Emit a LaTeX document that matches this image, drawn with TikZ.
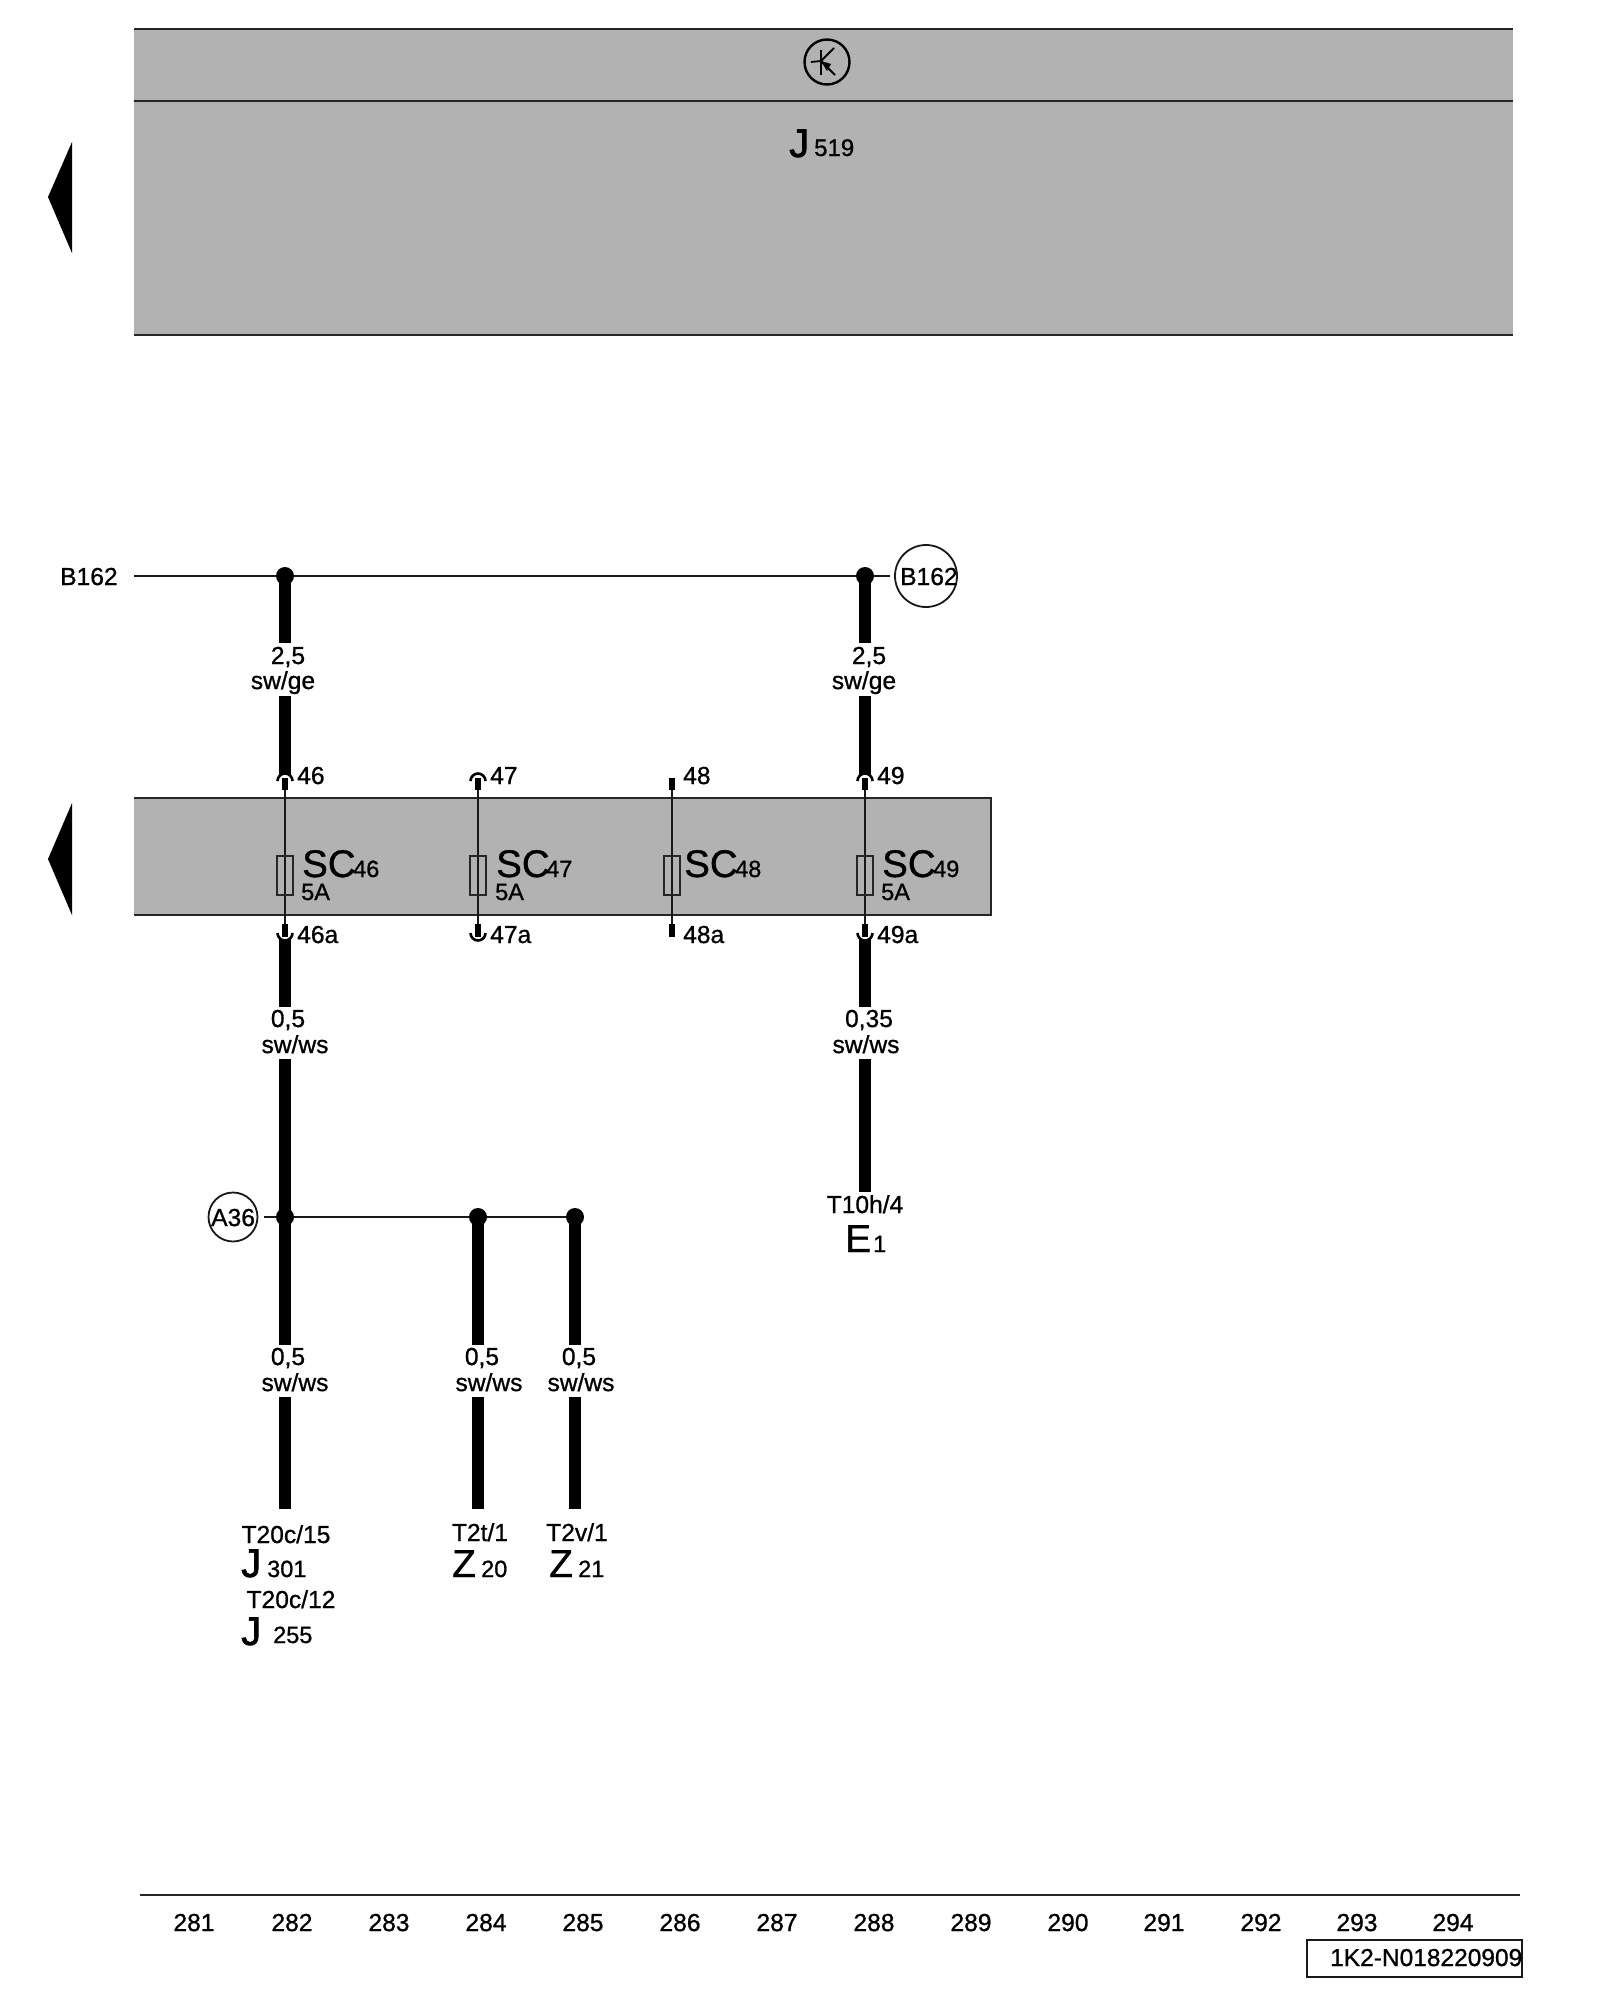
\documentclass[tikz,border=0pt]{standalone}
\usepackage{fontspec}
\setmainfont{Liberation Sans}
\newfontfamily\semi[FakeBold=0.9]{Liberation Sans}
\newfontfamily\semib[FakeBold=1.5]{Liberation Sans}
\newcommand{\fsz}[1]{\fontsize{#1}{#1}\selectfont}
\definecolor{bandgray}{HTML}{B2B2B2}
\tikzset{
  band/.style={fill=bandgray,draw=none},
  bandline/.style={line width=2.4pt,draw=black!85},
  thin wire/.style={line width=2.2pt,draw=black!90},
  thick wire/.style={line width=11.5pt,draw=black},
  stub/.style={line width=5.5pt,draw=black},
  pinarc/.style={line width=2.6pt,draw=black,fill=white},
  fuse/.style={draw=black!85,line width=1.8pt,fill=none,minimum width=16pt,minimum height=39pt,inner sep=0pt,rectangle},
  dot/.style={circle,fill=black,draw=none,minimum size=18pt,inner sep=0pt},
  ref/.style={circle,draw=black!90,line width=1.8pt,fill=none,inner sep=0pt},
  lab/.style={inner sep=0pt,anchor=base,font=\semi\fsz{24.6}},
  labw/.style={inner sep=0pt,anchor=base west,font=\semi\fsz{24.6}},
  big/.style={inner sep=0pt,anchor=base west,font=\semi\fsz{39}},
  sub/.style={inner sep=0pt,anchor=base west,font=\semi\fsz{23.5}},
  pointer/.style={fill=black,draw=none},
  x=1pt,y=1pt
}
\begin{document}
\begin{tikzpicture}[x=1pt,y=1pt]
\useasboundingbox (0,0) rectangle (1600,-2000);
\fill[white] (0,0) rectangle (1600,-2000);

% named points
\coordinate (ctlL) at (134,-29); \coordinate (ctlR) at (1513,-29);
\coordinate (c2L) at (134,-101); \coordinate (c2R) at (1513,-101);
\coordinate (c3L) at (134,-335); \coordinate (c3R) at (1513,-335);

% control-unit band
\fill[band] (ctlL) rectangle (c3R);
\draw[bandline] (ctlL) -- (ctlR);
\draw[bandline] (c2L) -- (c2R);
\draw[bandline] (c3L) -- (c3R);

% transistor symbol
\node[circle,draw=black,line width=2.4pt,minimum size=45pt,inner sep=0pt] (tr) at (827,-62) {};
\coordinate (trA) at (821,-50); \coordinate (trB) at (821,-75); \coordinate (trC) at (811,-62);
\coordinate (trM) at (821,-61); \coordinate (trD) at (834,-48); \coordinate (trE) at (835,-75);
\draw[line width=1.8pt] (trA) -- (trB);
\draw[line width=1.8pt] (trC) -- (trM);
\draw[line width=1.8pt] (trM) -- (trD);
\draw[line width=1.8pt] (trM) -- (trE);
\fill (trM) -- ++(10,-3) -- ++(-4,-7) -- cycle;

\node[big,font=\semib\fsz{40}] (j519) at (789,-157) {J};
\node[sub,font=\semi\fsz{24}] (j519n) at (814,-156) {519};

% pointers
\fill[pointer] (72,-142) -- (48,-197) -- (72,-253) -- cycle;
\fill[pointer] (72,-803) -- (48,-859) -- (72,-915) -- cycle;

% fuse band
\fill[band] (134,-798) rectangle (991,-915);
\draw[bandline] (134,-798) -- (991,-798) -- (991,-915) -- (134,-915);

% wire columns
\coordinate (jA) at (285,-576);
\coordinate (jB) at (865,-576);
\coordinate (busL) at (134,-576);
\coordinate (busR) at (890,-576);
\draw[thin wire] (busL) -- (busR);

% B162 wire at 282
\coordinate (a1) at (285,-643); \coordinate (a2) at (285,-696); \coordinate (a3) at (285,-778);
\draw[thick wire] (jA) -- (a1);
\draw[thick wire] (a2) -- (a3);
% B162 wire at 288
\coordinate (b1) at (865,-643); \coordinate (b2) at (865,-696); \coordinate (b3) at (865,-778);
\draw[thick wire] (jB) -- (b1);
\draw[thick wire] (b2) -- (b3);

% lower wires
\coordinate (a4) at (285,-936); \coordinate (a5) at (285,-1007);
\coordinate (a6) at (285,-1059); \coordinate (jC) at (285,-1217);
\coordinate (a7) at (285,-1345); \coordinate (a8) at (285,-1397); \coordinate (a9) at (285,-1509);
\draw[thick wire] (a4) -- (a5);
\draw[thick wire] (a6) -- (jC) -- (a7);
\draw[thick wire] (a8) -- (a9);
\coordinate (b4) at (865,-936); \coordinate (b5) at (865,-1007);
\coordinate (b6) at (865,-1059); \coordinate (b7) at (865,-1192);
\draw[thick wire] (b4) -- (b5);
\draw[thick wire] (b6) -- (b7);

\coordinate (jD) at (478,-1217); \coordinate (jE) at (575,-1217);
\coordinate (d1) at (478,-1345); \coordinate (d2) at (478,-1397); \coordinate (d3) at (478,-1509);
\coordinate (e1) at (575,-1345); \coordinate (e2) at (575,-1397); \coordinate (e3) at (575,-1509);
\draw[thick wire] (jD) -- (d1);
\draw[thick wire] (d2) -- (d3);
\draw[thick wire] (jE) -- (e1);
\draw[thick wire] (e2) -- (e3);
\coordinate (busC) at (264,-1217);
\draw[thin wire] (busC) -- (jE);

% junction dots
\node[dot] (dA) at (jA) {};
\node[dot] (dB) at (jB) {};
\node[dot] (dC) at (jC) {};
\node[dot] (dD) at (jD) {};
\node[dot] (dE) at (jE) {};

% references
\node[ref,minimum size=62pt] (rB) at (926,-576) {};
\node[labw] (rBt) at (900,-585) {B162};
\node[ref,minimum size=49pt] (rA) at (233,-1217) {};
\node[labw] (rAt) at (211,-1226) {A36};
\node[labw] (bl) at (60,-585) {B162};

% fuses with pins
\foreach \n/\x in {46/285,47/478,49/865}{
  \begin{scope}[shift={(\x,0)}]
    \coordinate (pu\n) at (0,-781);
    \coordinate (pl\n) at (0,-933);
    \draw[pinarc] (pu\n) ++(-7.5,0) arc (180:0:7.5);
    \draw[pinarc] (pl\n) ++(-7.5,0) arc (180:360:7.5);
  \end{scope}
}
\foreach \n/\x in {46/285,47/478,48/672,49/865}{
  \coordinate (tu\n) at (\x,-778);
  \coordinate (su\n) at (\x,-790);
  \coordinate (sl\n) at (\x,-924);
  \coordinate (tl\n) at (\x,-937);
  \draw[stub] (tu\n) -- (su\n);
  \draw[stub] (sl\n) -- (tl\n);
  \draw[thin wire] (su\n) -- (sl\n);
  \node[fuse] (f\n) at (\x,-875.5) {};
}

% pin labels
\node[labw] (p46) at (297,-784) {46};
\node[labw] (p47) at (490,-784) {47};
\node[labw] (p48) at (683,-784) {48};
\node[labw] (p49) at (877,-784) {49};
\node[labw] (q46) at (297,-943) {46a};
\node[labw] (q47) at (490,-943) {47a};
\node[labw] (q48) at (683,-943) {48a};
\node[labw] (q49) at (877,-943) {49a};

% fuse designations
\node[big,font=\semi\fsz{38.5}] (s46) at (302,-877) {SC};
\node[sub] (n46) at (353,-877) {46};
\node[sub] (a46) at (301,-900) {5A};
\node[big,font=\semi\fsz{38.5}] (s47) at (496,-877) {SC};
\node[sub] (n47) at (546,-877) {47};
\node[sub] (a47) at (495,-900) {5A};
\node[big,font=\semi\fsz{38.5}] (s48) at (684,-877) {SC};
\node[sub] (n48) at (735,-877) {48};
\node[big,font=\semi\fsz{38.5}] (s49) at (882,-877) {SC};
\node[sub] (n49) at (933,-877) {49};
\node[sub] (a49) at (881,-900) {5A};

% wire labels
\node[lab] (w1) at (288,-664) {2,5};
\node[lab] (w2) at (283,-689) {sw/ge};
\node[lab] (w3) at (869,-664) {2,5};
\node[lab] (w4) at (864,-689) {sw/ge};
\node[lab] (w5) at (288,-1027) {0,5};
\node[lab] (w6) at (295,-1053) {sw/ws};
\node[lab] (w7) at (869,-1027) {0,35};
\node[lab] (w8) at (866,-1053) {sw/ws};
\node[lab] (w9) at (288,-1365) {0,5};
\node[lab] (w10) at (295,-1391) {sw/ws};
\node[lab] (w11) at (482,-1365) {0,5};
\node[lab] (w12) at (489,-1391) {sw/ws};
\node[lab] (w13) at (579,-1365) {0,5};
\node[lab] (w14) at (581,-1391) {sw/ws};

% terminals
\node[lab] (t1) at (286,-1543) {T20c/15};
\node[big,font=\semib\fsz{40}] (t1a) at (241,-1577) {J};
\node[sub] (t1b) at (267,-1577) {301};
\node[lab] (t2) at (291,-1608) {T20c/12};
\node[big,font=\semib\fsz{40}] (t2a) at (241,-1645) {J};
\node[sub] (t2b) at (273,-1643) {255};
\node[lab] (t3) at (480,-1541) {T2t/1};
\node[big] (t3a) at (452,-1577) {Z};
\node[sub] (t3b) at (481,-1577) {20};
\node[lab] (t4) at (577,-1541) {T2v/1};
\node[big] (t4a) at (549,-1577) {Z};
\node[sub] (t4b) at (578,-1577) {21};
\node[lab] (t5) at (865,-1213) {T10h/4};
\node[big] (t5a) at (845,-1252) {E};
\node[sub] (t5b) at (873,-1252) {1};

% footer
\coordinate (fL) at (140,-1895); \coordinate (fR) at (1520,-1895);
\draw[bandline] (fL) -- (fR);
\foreach \t/\x in {281/194,282/292,283/389,284/486,285/583,286/680,287/777,288/874,289/971,290/1068,291/1164,292/1261,293/1357,294/1453}{
  \node[lab] (num\t) at (\x,-1931) {\t};
}
\coordinate (boxA) at (1307,-1940); \coordinate (boxB) at (1522,-1977);
\draw[line width=2pt,draw=black!90] (boxA) rectangle (boxB);
\node[labw,font=\semi\fsz{24.5}] (doc) at (1330,-1966) {1K2-N018220909};
\end{tikzpicture}
\end{document}
